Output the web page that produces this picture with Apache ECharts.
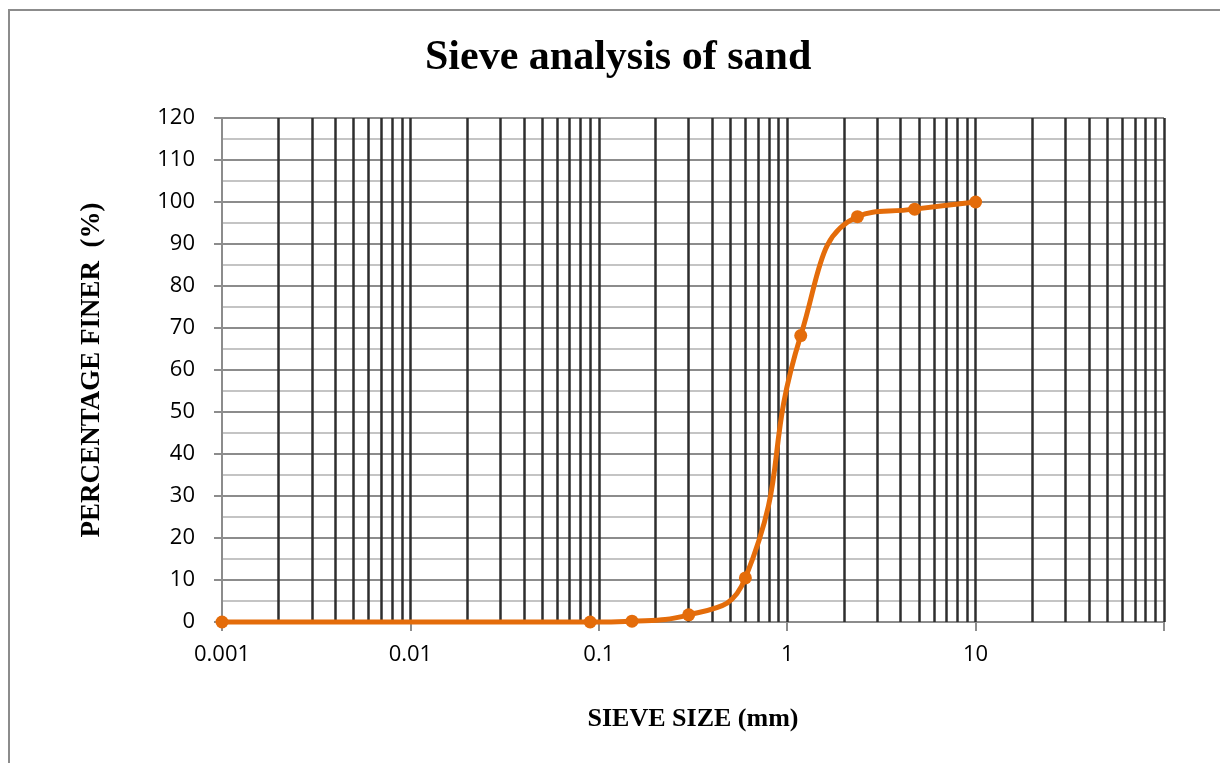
<!DOCTYPE html>
<html>
<head>
<meta charset="utf-8">
<title>Sieve analysis of sand</title>
<script src="https://cdn.jsdelivr.net/npm/echarts@6/dist/echarts.min.js"></script>
<style>
  html, body { margin: 0; padding: 0; background: #fff; }
  #frame {
    position: absolute; left: 8px; top: 9px; width: 1300px; height: 900px;
    border-top: 2px solid #8c8c8c; border-left: 2px solid #8c8c8c;
  }
  #chart { position: absolute; left: 0; top: 0; width: 1220px; height: 763px; }
</style>
</head>
<body>
<div id="frame"></div>
<div id="chart"></div>
<script>
// sieve sizes (mm) and % finer
var sieveSizes = [0.001, 0.09, 0.15, 0.3, 0.6, 1.18, 2.36, 4.75, 10]
var percentFiner = [0, 0, 0.2, 1.7, 10.5, 68.2, 96.5, 98.3, 100]

// log grid: 2..10 in every decade
var decades = [0.001, 0.01, 0.1, 1, 10]
var multipliers = [2, 3, 4, 5, 6, 7, 8, 9, 10]
var xTickLabels = ['0.001', '0.01', '0.1', '1', '10', '']
var yMin = 0
var yMax = 120

var serif = '"Liberation Serif", "Times New Roman", serif'
var sans = '"Open Sans", "Liberation Sans", sans-serif'

var gridLines = []
decades.forEach(function (d) {
  multipliers.forEach(function (m) {
    var v = +(d * m).toPrecision(3)
    gridLines.push({ coords: [[v, yMin], [v, yMax]] })
  })
})

var chart = echarts.init(document.getElementById('chart'))
var option = {
  animation: false,
  title: {
    text: 'Sieve analysis of sand',
    left: 420,
    top: 32,
    textStyle: { fontFamily: serif, fontWeight: 'bold', fontSize: 42, color: '#000' },
  },
  grid: { left: 222, right: 56, top: 118, bottom: 141 },
  xAxis: {
    type: 'log',
    logBase: 10,
    min: 0.001,
    max: 100,
    name: 'SIEVE SIZE (mm)',
    nameLocation: 'middle',
    nameGap: 84,
    nameTextStyle: { fontFamily: serif, fontWeight: 'bold', fontSize: 26, color: '#000' },
    axisLine: { lineStyle: { color: '#8c8c8c', width: 2 } },
    axisTick: { show: true, length: 9, lineStyle: { color: '#8c8c8c', width: 2 } },
    axisLabel: {
      margin: 22,
      fontFamily: sans,
      fontSize: 22,
      color: '#000',
      formatter: function (v, i) { return xTickLabels[i] || '' },
    },
    splitLine: { show: false },
  },
  yAxis: {
    type: 'value',
    min: yMin,
    max: yMax,
    interval: 10,
    name: 'PERCENTAGE FINER  (%)',
    nameLocation: 'middle',
    nameGap: 116,
    nameRotate: 90,
    nameTextStyle: { fontFamily: serif, fontWeight: 'bold', fontSize: 27, color: '#000' },
    axisLine: { show: true, lineStyle: { color: '#8c8c8c', width: 2 } },
    axisTick: { show: true, length: 8, lineStyle: { color: '#8c8c8c', width: 2 } },
    axisLabel: { margin: 27, fontFamily: sans, fontSize: 22, color: '#000' },
    splitLine: { lineStyle: { color: '#8c8c8c', width: 2 } },
    minorTick: { show: false, splitNumber: 2 },
    minorSplitLine: { show: true, lineStyle: { color: '#c4c4c4', width: 2 } },
  },
  series: [
    {
      // vertical log grid lines
      type: 'lines',
      coordinateSystem: 'cartesian2d',
      silent: true,
      z: 1,
      lineStyle: { color: '#2e2e2e', width: 2.5, opacity: 1 },
      data: gridLines,
    },
    {
      name: 'Percentage finer',
      type: 'line',
      z: 5,
      smooth: 0.5,
      clip: false,
      symbol: 'circle',
      symbolSize: 13,
      color: '#E46C0A',
      lineStyle: { width: 5, color: '#E46C0A' },
      itemStyle: { color: '#E46C0A' },
      data: sieveSizes.map(function (s, i) { return [s, percentFiner[i]] }),
    },
  ],
}
chart.setOption(option)
</script>
</body>
</html>
